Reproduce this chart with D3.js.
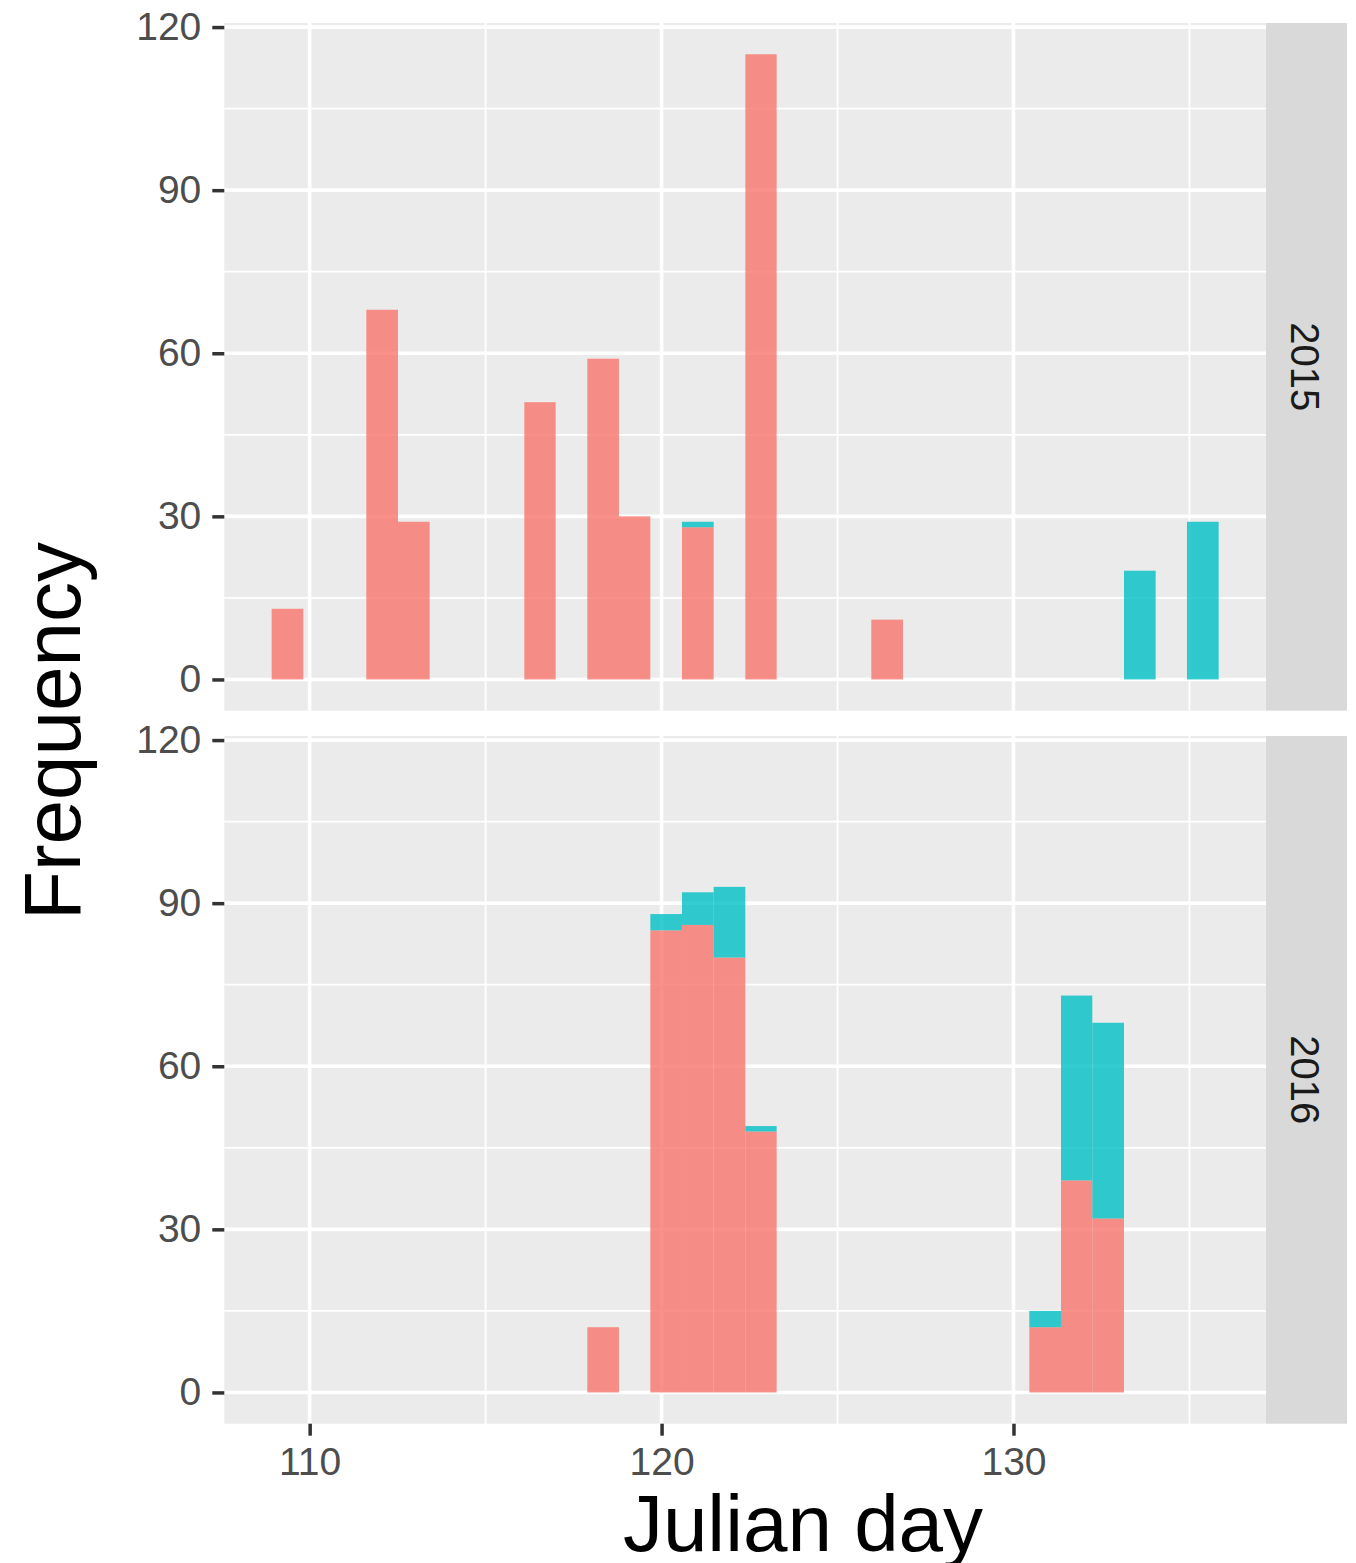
<!DOCTYPE html>
<html lang="en">
<head>
<meta charset="utf-8">
<script src="https://d3js.org/d3.v7.min.js"></script>
<title>Julian day histogram</title>
<style>
  body { margin: 0; background: #fff; }
  text { font-family: "Liberation Sans", Arial, Helvetica, sans-serif; }
</style>
</head>
<body>
<script>

// facets and groups
var years = ["2015", "2016"];
var groups = ["a", "b"];
var groupColors = ["#F8766D", "#00BFC4"];

// histogram bin edges (Julian day), 30 bins
var binEdges = [108.92, 109.82, 110.71, 111.61, 112.51, 113.41, 114.30, 115.20, 116.10, 116.99,
                117.89, 118.79, 119.68, 120.58, 121.48, 122.38, 123.27, 124.17, 125.07, 125.96,
                126.86, 127.76, 128.65, 129.55, 130.45, 131.35, 132.24, 133.14, 134.04, 134.93,
                135.83];

// counts per bin
var counts2015a = [13, 0, 0, 68, 29, 0, 0, 0, 51, 0, 59, 30, 0, 28, 0, 115, 0, 0, 0, 11, 0, 0, 0, 0, 0, 0, 0, 0, 0, 0];
var counts2015b = [0, 0, 0, 0, 0, 0, 0, 0, 0, 0, 0, 0, 0, 1, 0, 0, 0, 0, 0, 0, 0, 0, 0, 0, 0, 0, 0, 20, 0, 29];
var counts2016a = [0, 0, 0, 0, 0, 0, 0, 0, 0, 0, 12, 0, 85, 86, 80, 48, 0, 0, 0, 0, 0, 0, 0, 0, 12, 39, 32, 0, 0, 0];
var counts2016b = [0, 0, 0, 0, 0, 0, 0, 0, 0, 0, 0, 0, 3, 6, 13, 1, 0, 0, 0, 0, 0, 0, 0, 0, 3, 34, 36, 0, 0, 0];

var xTicks = [110, 120, 130];
var xMinor = [115, 125, 135];
var yTicks = [0, 30, 60, 90, 120];
var yMinor = [15, 45, 75, 105];

var countsByYear = {
  "2015": [counts2015a, counts2015b],
  "2016": [counts2016a, counts2016b]
};

var W = 1356, H = 1563;
var panelLeft = 224.3, panelRight = 1266, stripRight = 1347;
var panelTops = [23, 736], panelH = 687.7;

var svg = d3.select("body")
  .append("svg")
    .attr("width", W)
    .attr("height", H);

// x domain: bin range expanded 5% each side
var xr = binEdges[binEdges.length - 1] - binEdges[0];
var x = d3.scaleLinear()
  .domain([binEdges[0] - 0.05 * xr, binEdges[binEdges.length - 1] + 0.05 * xr])
  .range([panelLeft, panelRight]);

function draw() {

  // stacked rows
  var tables = years.map(function(yr) {
    return d3.range(binEdges.length - 1).map(function(i) {
      return { x0: binEdges[i], x1: binEdges[i + 1], a: countsByYear[yr][0][i], b: countsByYear[yr][1][i] };
    });
  });
  var stack = d3.stack().keys(groups);
  var maxY = d3.max(tables, function(t) { return d3.max(t, function(d) { return d.a + d.b; }); });

  years.forEach(function(yr, p) {
    var top = panelTops[p];
    var y = d3.scaleLinear()
      .domain([-0.05 * maxY, maxY * 1.05])
      .range([top + panelH, top]);

    var g = svg.append("g");

    g.append("rect")
      .attr("x", panelLeft).attr("y", top)
      .attr("width", panelRight - panelLeft).attr("height", panelH)
      .attr("fill", "#EBEBEB");

    // grid
    g.selectAll(".ymin").data(yMinor).enter().append("line")
      .attr("x1", panelLeft).attr("x2", panelRight)
      .attr("y1", function(d) { return y(d); }).attr("y2", function(d) { return y(d); })
      .attr("stroke", "#fff").attr("stroke-width", 1.8);
    g.selectAll(".xmin").data(xMinor).enter().append("line")
      .attr("y1", top).attr("y2", top + panelH)
      .attr("x1", function(d) { return x(d); }).attr("x2", function(d) { return x(d); })
      .attr("stroke", "#fff").attr("stroke-width", 1.8);
    g.selectAll(".ymaj").data(yTicks).enter().append("line")
      .attr("x1", panelLeft).attr("x2", panelRight)
      .attr("y1", function(d) { return y(d); }).attr("y2", function(d) { return y(d); })
      .attr("stroke", "#fff").attr("stroke-width", 3.6);
    g.selectAll(".xmaj").data(xTicks).enter().append("line")
      .attr("y1", top).attr("y2", top + panelH)
      .attr("x1", function(d) { return x(d); }).attr("x2", function(d) { return x(d); })
      .attr("stroke", "#fff").attr("stroke-width", 3.6);

    // bars
    var series = stack(tables[p]);
    series.forEach(function(s, gi) {
      g.selectAll(".bar" + gi)
        .data(s.filter(function(d) { return d[1] > d[0]; }))
        .enter().append("rect")
          .attr("x", function(d) { return x(d.data.x0); })
          .attr("width", function(d) { return x(d.data.x1) - x(d.data.x0); })
          .attr("y", function(d) { return y(d[1]); })
          .attr("height", function(d) { return y(d[0]) - y(d[1]); })
          .attr("fill", groupColors[gi])
          .attr("fill-opacity", 0.8);
    });

    // y axis
    var yAxis = g.append("g")
      .attr("transform", "translate(" + panelLeft + ",0)")
      .call(d3.axisLeft(y).tickValues(yTicks).tickSize(12).tickPadding(11));
    yAxis.select(".domain").remove();
    yAxis.selectAll("line").attr("stroke", "#333333").attr("stroke-width", 3.5);
    yAxis.selectAll("text").attr("fill", "#4D4D4D").attr("font-size", 39)
      .style("font-family", "'Liberation Sans', Arial, sans-serif");

    // strip
    g.append("rect")
      .attr("x", panelRight).attr("y", top)
      .attr("width", stripRight - panelRight).attr("height", panelH)
      .attr("fill", "#D9D9D9");
    g.append("text")
      .attr("transform", "translate(" + 1305 + "," + (top + panelH / 2) + ") rotate(90)")
      .attr("text-anchor", "middle")
      .attr("dy", "0.36em")
      .attr("font-size", 40)
      .attr("fill", "#1A1A1A")
      .text(yr);

    if (p === years.length - 1) {
      var xAxis = g.append("g")
        .attr("transform", "translate(0," + (top + panelH) + ")")
        .call(d3.axisBottom(x).tickValues(xTicks).tickSize(12).tickPadding(12));
      xAxis.select(".domain").remove();
      xAxis.selectAll("line").attr("stroke", "#333333").attr("stroke-width", 3.5);
      xAxis.selectAll("text").attr("fill", "#4D4D4D").attr("font-size", 39)
        .style("font-family", "'Liberation Sans', Arial, sans-serif");
    }
  });

  // axis titles
  svg.append("text")
    .attr("transform", "translate(80,731) rotate(-90)")
    .attr("text-anchor", "middle")
    .attr("font-size", 80)
    .attr("fill", "#000")
    .text("Frequency");

  svg.append("text")
    .attr("x", 803)
    .attr("y", 1551)
    .attr("text-anchor", "middle")
    .attr("font-size", 80)
    .attr("fill", "#000")
    .text("Julian day");
}

draw();
</script>
</body>
</html>
